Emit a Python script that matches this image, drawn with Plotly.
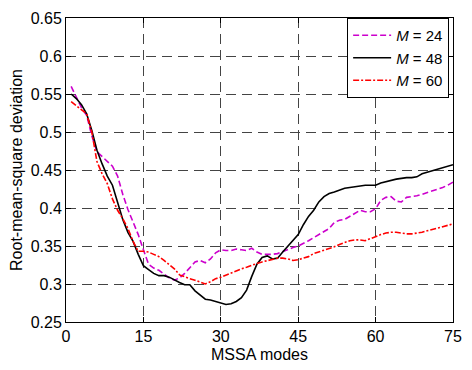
import plotly.graph_objects as go

modes = list(range(1, 76))

rmsd_m24 = [0.560, 0.545, 0.532, 0.522, 0.495, 0.474, 0.468, 0.462, 0.455, 0.442,
            0.418, 0.398, 0.382, 0.365, 0.345, 0.326, 0.321, 0.318, 0.313, 0.308,
            0.305, 0.308, 0.314, 0.322, 0.329, 0.331, 0.328, 0.333, 0.341, 0.345,
            0.344, 0.344, 0.346, 0.345, 0.344, 0.347, 0.342, 0.339, 0.339, 0.339,
            0.340, 0.343, 0.345, 0.348, 0.350, 0.353, 0.357, 0.361, 0.365, 0.369,
            0.373, 0.381, 0.384, 0.385, 0.389, 0.393, 0.397, 0.395, 0.395, 0.399,
            0.410, 0.414, 0.415, 0.409, 0.408, 0.414, 0.415, 0.416, 0.418, 0.420,
            0.422, 0.424, 0.427, 0.430, 0.434]

rmsd_m48 = [0.550, 0.544, 0.536, 0.524, 0.502, 0.476, 0.458, 0.442, 0.430, 0.407,
            0.385, 0.368, 0.356, 0.339, 0.324, 0.319, 0.314, 0.311, 0.311, 0.309,
            0.305, 0.302, 0.299, 0.299, 0.291, 0.285, 0.280, 0.279, 0.277, 0.275,
            0.273, 0.274, 0.277, 0.282, 0.292, 0.310, 0.326, 0.335, 0.337, 0.333,
            0.334, 0.342, 0.350, 0.358, 0.365, 0.378, 0.389, 0.397, 0.408, 0.415,
            0.419, 0.421, 0.424, 0.426, 0.427, 0.428, 0.429, 0.430, 0.430, 0.430,
            0.433, 0.435, 0.436, 0.438, 0.439, 0.440, 0.440, 0.441, 0.445, 0.447,
            0.449, 0.450, 0.452, 0.454, 0.457]

rmsd_m60 = [0.540, 0.535, 0.530, 0.524, 0.500, 0.461, 0.445, 0.432, 0.412, 0.397,
            0.386, 0.373, 0.356, 0.343, 0.343, 0.342, 0.339, 0.336, 0.331, 0.326,
            0.320, 0.312, 0.309, 0.307, 0.305, 0.302, 0.300, 0.303, 0.307, 0.309,
            0.312, 0.315, 0.317, 0.320, 0.322, 0.325, 0.327, 0.329, 0.331, 0.333,
            0.334, 0.334, 0.333, 0.331, 0.332, 0.334, 0.336, 0.340, 0.342, 0.344,
            0.347, 0.349, 0.352, 0.355, 0.357, 0.358, 0.358, 0.357, 0.360, 0.363,
            0.365, 0.367, 0.368, 0.368, 0.367, 0.366, 0.366, 0.367, 0.368, 0.370,
            0.372, 0.373, 0.375, 0.377, 0.379]

series_names = ["<i>M</i> = 24", "<i>M</i> = 48", "<i>M</i> = 60"]
x_ticks = [0, 15, 30, 45, 60, 75]
y_ticks = [0.25, 0.3, 0.35, 0.4, 0.45, 0.5, 0.55, 0.6, 0.65]
y_tick_text = ["0.25", "0.3", "0.35", "0.4", "0.45", "0.5", "0.55", "0.6", "0.65"]

FONT = "Liberation Sans, Arial, sans-serif"

fig = go.Figure()
fig.add_trace(go.Scatter(x=modes, y=rmsd_m24, mode="lines", name=series_names[0],
                         line=dict(color="#cc00cc", width=1.6, dash="6px,3px")))
fig.add_trace(go.Scatter(x=modes, y=rmsd_m48, mode="lines", name=series_names[1],
                         line=dict(color="#000000", width=1.6)))
fig.add_trace(go.Scatter(x=modes, y=rmsd_m60, mode="lines", name=series_names[2],
                         line=dict(color="#ff0000", width=1.6, dash="6px,2px,2px,2px")))

axis_common = dict(
    showline=True, linecolor="black", linewidth=1, mirror="ticks",
    ticks="inside", ticklen=5, tickcolor="black",
    showgrid=True, gridcolor="#444444", gridwidth=1, griddash="10px,6px",
    zeroline=False, tickfont=dict(family=FONT, size=16, color="black"),
)

fig.update_xaxes(range=[0, 75], tickvals=x_ticks, ticktext=[str(v) for v in x_ticks],
                 title=dict(text="MSSA modes", font=dict(family=FONT, size=16, color="black"),
                            standoff=4),
                 **axis_common)
fig.update_yaxes(range=[0.25, 0.65], tickvals=y_ticks, ticktext=y_tick_text,
                 title=dict(text="Root-mean-square deviation",
                            font=dict(family=FONT, size=16, color="black"), standoff=4),
                 **axis_common)

fig.update_layout(
    width=472, height=370,
    margin=dict(l=65.5, r=10, t=11, b=47.5, pad=0),
    paper_bgcolor="white", plot_bgcolor="white",
    font=dict(family=FONT, size=16, color="black"),
    legend=dict(x=0.99, y=1.0, xanchor="right", yanchor="top",
                bgcolor="white", bordercolor="black", borderwidth=1,
                font=dict(family=FONT, size=15, color="black"),
                itemwidth=38, tracegroupgap=0),
    showlegend=True,
)

fig.write_html("out.html")
